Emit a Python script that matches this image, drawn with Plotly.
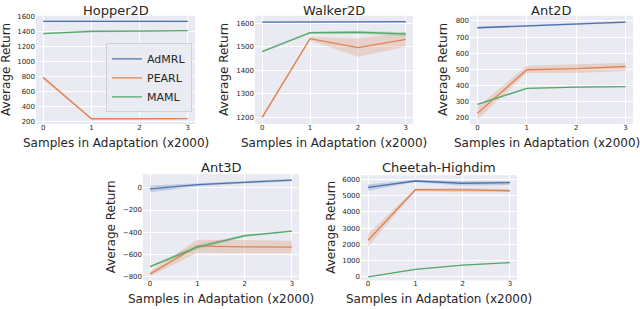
import plotly.graph_objects as go

steps = [0, 1, 2, 3]
labels = ["AdMRL", "PEARL", "MAML"]
colors = ["#4C72B0", "#DD8452", "#55A868"]
band_colors = ["rgba(76,114,176,0.25)", "rgba(221,132,82,0.25)", "rgba(85,168,104,0.25)"]

titles = ["Hopper2D", "Walker2D", "Ant2D", "Ant3D", "Cheetah-Highdim"]
xlabel = "Samples in Adaptation (x2000)"
ylabel = "Average Return"

# Hopper2D
hopper_mean = [[1535, 1535, 1535, 1535], [787, 240, 240, 242], [1372, 1400, 1405, 1410]]
hopper_lo = [[1525, 1528, 1528, 1528], [765, 230, 232, 234], [1362, 1385, 1395, 1400]]
hopper_hi = [[1545, 1542, 1542, 1542], [810, 250, 250, 250], [1382, 1420, 1415, 1420]]

# Walker2D
walker_mean = [[1605, 1607, 1606, 1607], [1200, 1535, 1497, 1532], [1480, 1560, 1562, 1555]]
walker_lo = [[1602, 1604, 1603, 1604], [1192, 1528, 1458, 1500], [1476, 1556, 1556, 1545]]
walker_hi = [[1608, 1610, 1609, 1610], [1208, 1542, 1535, 1562], [1484, 1564, 1568, 1562]]

# Ant2D
ant2d_mean = [[758, 770, 782, 793], [228, 498, 505, 518], [283, 383, 390, 393]]
ant2d_lo = [[752, 765, 777, 788], [188, 478, 478, 490], [278, 379, 386, 389]]
ant2d_hi = [[764, 775, 787, 798], [268, 522, 532, 542], [288, 387, 394, 397]]

# Ant3D
ant3d_mean = [[-10, 28, 50, 70], [-776, -525, -532, -535], [-710, -535, -432, -390]]
ant3d_lo = [[-40, 12, 38, 60], [-800, -585, -590, -590], [-718, -555, -442, -398]]
ant3d_hi = [[20, 44, 62, 80], [-752, -468, -470, -478], [-702, -512, -422, -382]]

# Cheetah-Highdim
cheetah_mean = [[5500, 5900, 5760, 5800], [2250, 5360, 5350, 5300], [0, 460, 720, 880]]
cheetah_lo = [[5300, 5830, 5600, 5660], [1850, 5290, 5200, 5200], [-20, 430, 690, 850]]
cheetah_hi = [[5700, 5970, 5880, 5900], [2650, 5430, 5470, 5400], [20, 490, 750, 910]]

means = [hopper_mean, walker_mean, ant2d_mean, ant3d_mean, cheetah_mean]
los = [hopper_lo, walker_lo, ant2d_lo, ant3d_lo, cheetah_lo]
his = [hopper_hi, walker_hi, ant2d_hi, ant3d_hi, cheetah_hi]

yticks = [
    [200, 400, 600, 800, 1000, 1200, 1400, 1600],
    [1200, 1300, 1400, 1500, 1600],
    [200, 300, 400, 500, 600, 700, 800],
    [-800, -600, -400, -200, 0],
    [0, 1000, 2000, 3000, 4000, 5000, 6000],
]
yranges = [[170, 1608], [1172, 1632], [162, 832], [-835, 123], [-222, 6258]]

W, H = 640, 309
# plot boxes in pixels: left, right, top, bottom
boxes = [
    (36, 195, 13, 123),
    (255, 413, 13, 123),
    (470, 633, 13, 123),
    (143, 299, 174, 282),
    (361, 517, 175, 282),
]
# y-title x centres (px), title centres, x-title centres
ytitle_x = [6, 224, 443, 111, 331]
title_y = [8, 8, 8, 167, 167]
xtitle_x = [115.5, 334, 547, 221, 439]

fig = go.Figure()
BG = "#EAEAF2"
TXT = "#262626"
layout = dict(
    width=W, height=H, margin=dict(l=0, r=0, t=0, b=0),
    paper_bgcolor="white", plot_bgcolor=BG,
    font=dict(family="DejaVu Sans", color=TXT),
    showlegend=True,
    legend=dict(x=106 / W, y=1 - 41 / H, xanchor="left", yanchor="top",
                bgcolor="rgba(234,234,242,0.85)", bordercolor="#D0D0D8", borderwidth=1,
                font=dict(size=11, color=TXT), tracegroupgap=0, traceorder="normal",
                itemwidth=30),
)
annotations = []
for i in range(5):
    ax = "" if i == 0 else str(i + 1)
    xref = "x" + ax
    yref = "y" + ax
    l, r, t, b = boxes[i]
    layout["xaxis" + ax] = dict(
        domain=[l / W, r / W], anchor=yref, range=[-0.15, 3.15],
        tickvals=steps, ticks="", showgrid=True, gridcolor="white", gridwidth=1,
        zeroline=False, showline=False, tickfont=dict(size=7, color=TXT),
        ticklabelstandoff=-2,
    )
    layout["yaxis" + ax] = dict(
        domain=[1 - b / H, 1 - t / H], anchor=xref, range=yranges[i],
        tickvals=yticks[i], ticks="", showgrid=True, gridcolor="white", gridwidth=1,
        zeroline=False, showline=False, tickfont=dict(size=7, color=TXT),
    )
    annotations.append(dict(
        text=titles[i], x=(l + r) / 2 / W, y=1 - title_y[i] / H, xref="paper", yref="paper",
        xanchor="center", yanchor="middle", showarrow=False, font=dict(size=13, color=TXT),
    ))
    annotations.append(dict(
        text=xlabel, x=xtitle_x[i] / W, y=1 - (b + 19) / H, xref="paper", yref="paper",
        xanchor="center", yanchor="middle", showarrow=False, font=dict(size=12, color=TXT),
    ))
    annotations.append(dict(
        text=ylabel, x=ytitle_x[i] / W, y=1 - (t + b) / 2 / H, xref="paper", yref="paper",
        xanchor="center", yanchor="middle", textangle=-90, showarrow=False,
        font=dict(size=12, color=TXT),
    ))
    for k in range(3):
        fig.add_trace(go.Scatter(x=steps, y=los[i][k], mode="lines", line=dict(width=0),
                                 xaxis=xref, yaxis=yref, showlegend=False, hoverinfo="skip"))
        fig.add_trace(go.Scatter(x=steps, y=his[i][k], mode="lines", line=dict(width=0),
                                 fill="tonexty", fillcolor=band_colors[k],
                                 xaxis=xref, yaxis=yref, showlegend=False, hoverinfo="skip"))
    for k in range(3):
        fig.add_trace(go.Scatter(x=steps, y=means[i][k], mode="lines", name=labels[k],
                                 line=dict(color=colors[k], width=1.3),
                                 xaxis=xref, yaxis=yref, showlegend=(i == 0)))

layout["annotations"] = annotations
fig.update_layout(**layout)
fig.write_html("out.html", config={"displayModeBar": False},
               post_script="document.body.style.margin='0px';")
